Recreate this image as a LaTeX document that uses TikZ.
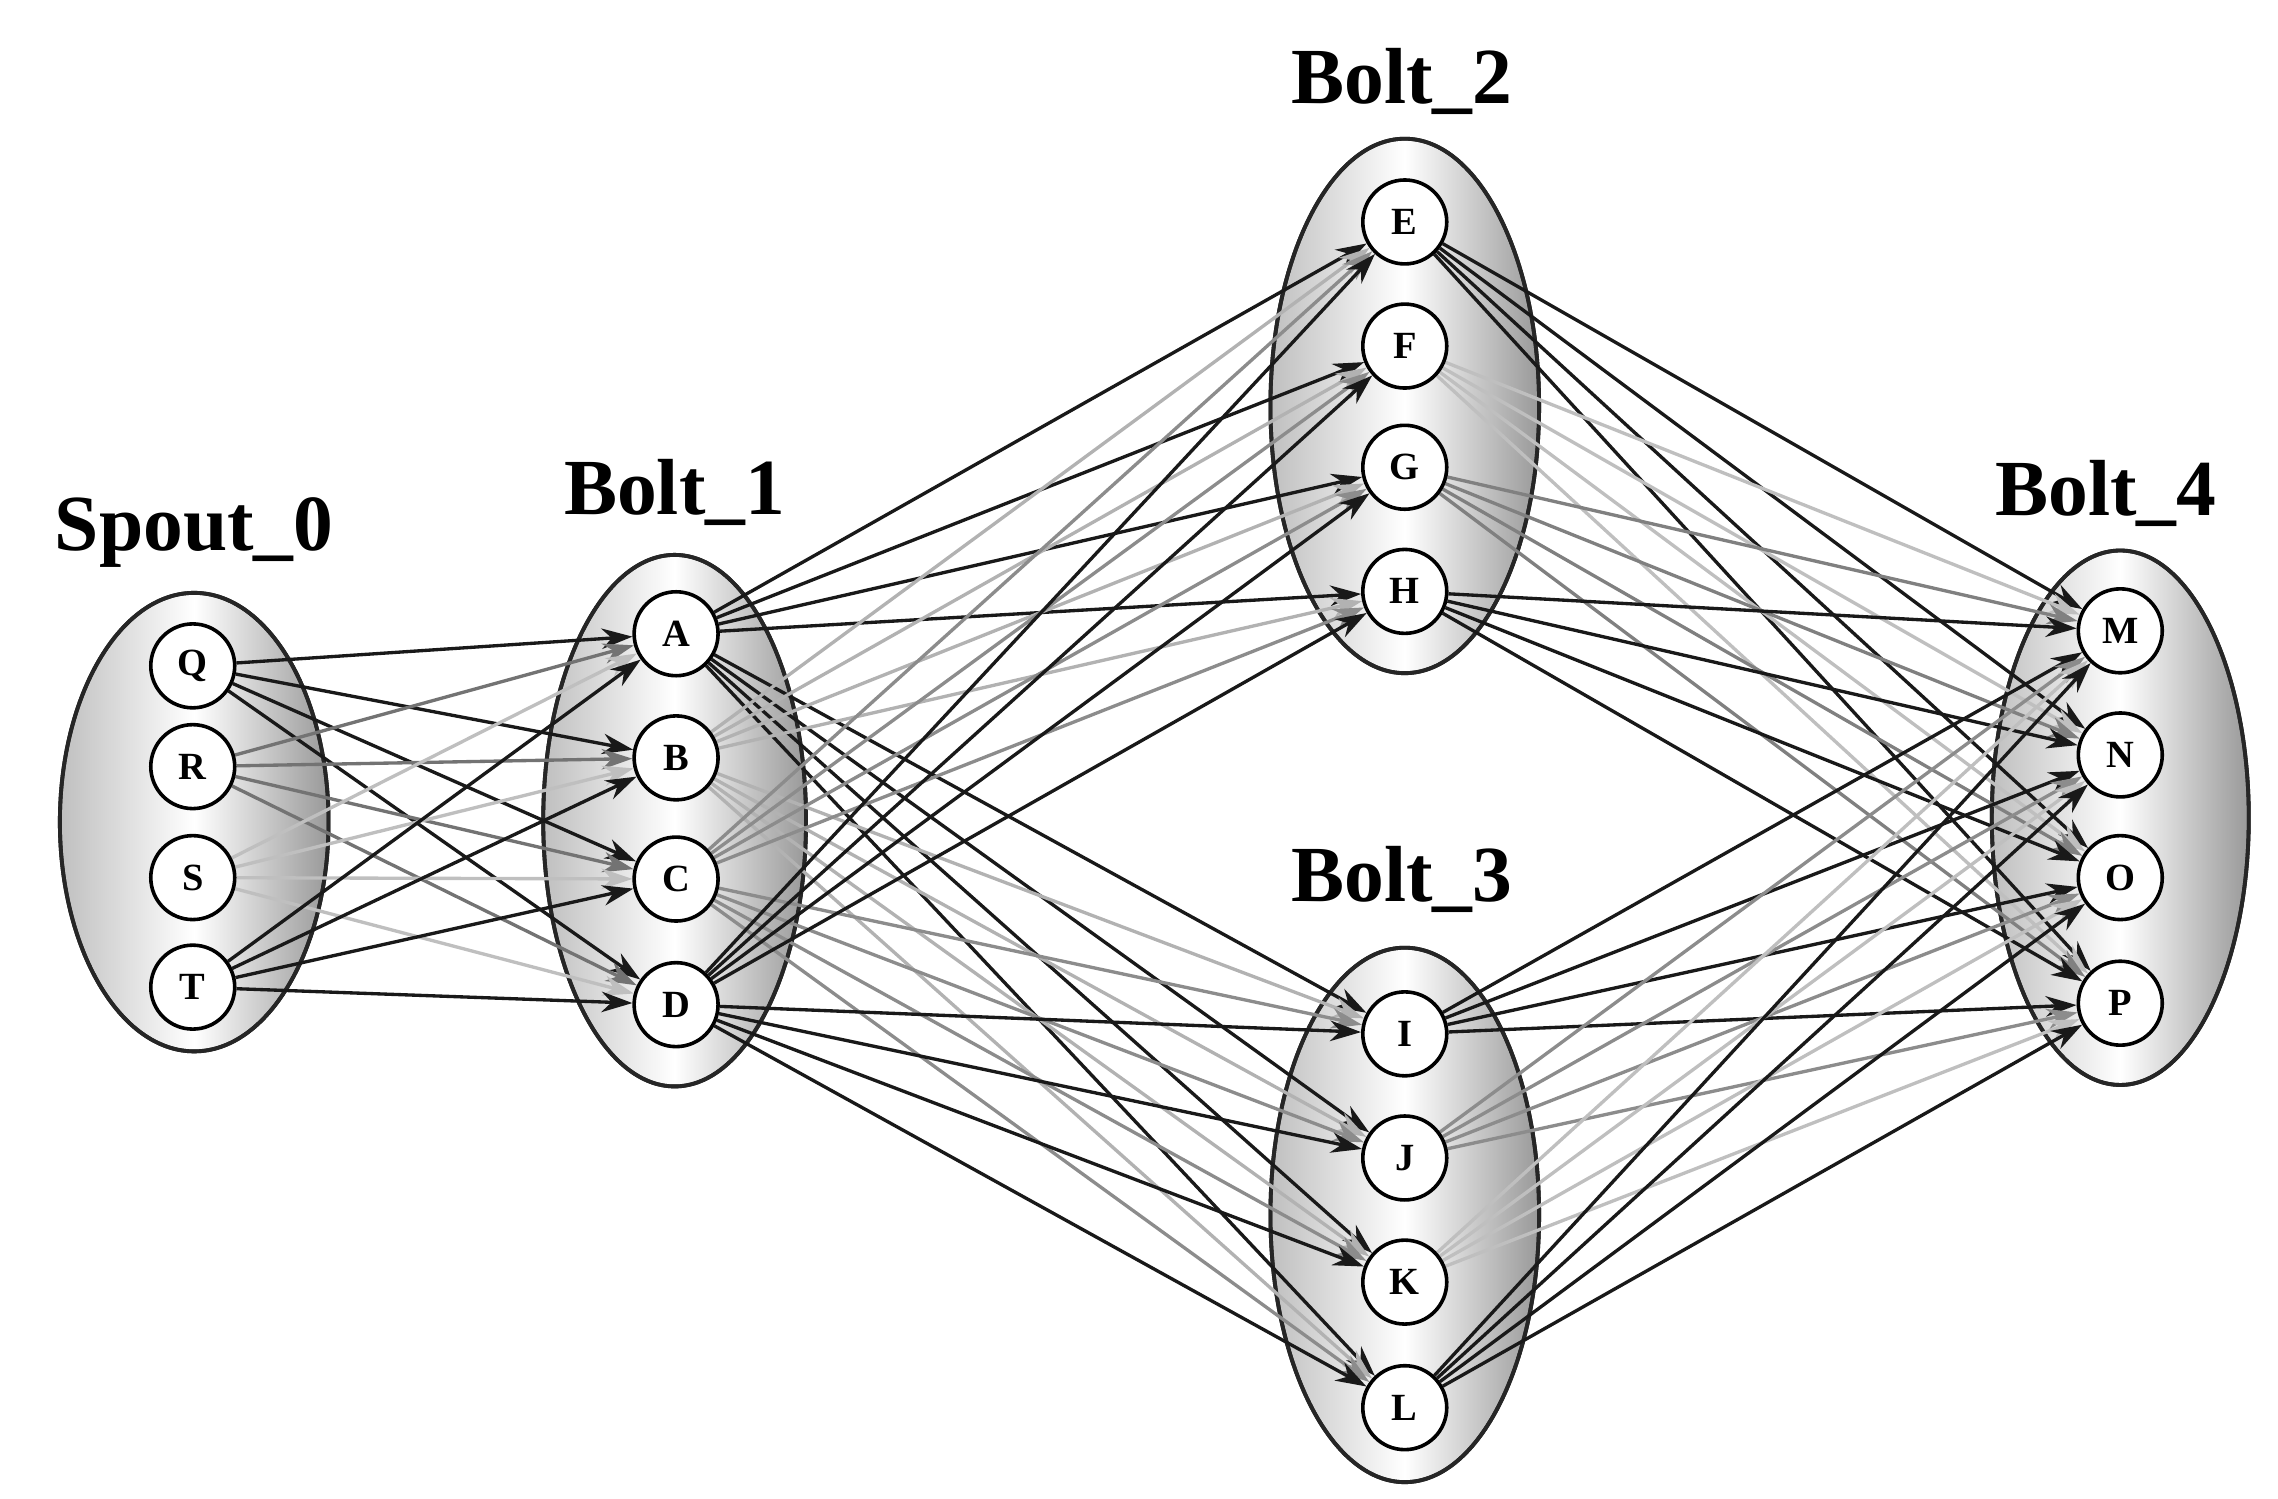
\documentclass[tikz,border=0pt]{standalone}
\usepackage{fontspec}
\setmainfont{Liberation Serif}
\usetikzlibrary{arrows.meta,backgrounds}
\begin{document}
\begin{tikzpicture}[x=0.02cm,y=-0.02cm,
 grp/.style={draw=black!85,line width=1.5pt,left color=gray!50,right color=gray!80,middle color=white,shading angle=90},
 nd/.style={circle,draw=black,line width=1.4pt,fill=white,minimum size=1.15cm,inner sep=0pt,font=\fontsize{15}{16}\selectfont\bfseries},
 ttl/.style={font=\fontsize{31}{34}\selectfont\bfseries},
 e/.style={-{Stealth[length=12pt,width=8pt]},line width=1.3pt}]
\useasboundingbox (0,0) rectangle (1560,1026);
\node[ttl] (t0) at (133,365) {Spout\_0};
\node[ttl] (t1) at (462,337) {Bolt\_1};
\node[ttl] (t2) at (960,56) {Bolt\_2};
\node[ttl] (t3) at (960,602) {Bolt\_3};
\node[ttl] (t4) at (1442,338) {Bolt\_4};
\foreach \n/\y in {Q/456,R/525,S/601,T/676} \node[nd] (\n) at (132,\y) {\n};
\foreach \n/\y in {A/434,B/519,C/602,D/688} \node[nd] (\n) at (463,\y) {\n};
\foreach \n/\y in {E/152,F/237,G/320,H/405,I/708,J/793,K/878,L/964} \node[nd] (\n) at (962,\y) {\n};
\foreach \n/\y in {M/432,N/517,O/601,P/687} \node[nd] (\n) at (1452,\y) {\n};
\begin{scope}[on background layer]
\fill[grp] (133,563) ellipse [x radius=92,y radius=157];
\fill[grp] (462,562) ellipse [x radius=90,y radius=182];
\fill[grp] (962,278) ellipse [x radius=92,y radius=183];
\fill[grp] (962,832) ellipse [x radius=92,y radius=183];
\fill[grp] (1452,560) ellipse [x radius=88,y radius=183];
\draw[black!85,line width=1.5pt] (133,563) ellipse [x radius=92,y radius=157] (462,562) ellipse [x radius=90,y radius=182] (962,278) ellipse [x radius=92,y radius=183] (962,832) ellipse [x radius=92,y radius=183] (1452,560) ellipse [x radius=88,y radius=183];
\foreach \s/\c in {Q/black!90,R/black!55,S/black!25,T/black!90}
  \foreach \t in {A,B,C,D} \draw[e,draw=\c] (\s) -- (\t);
\foreach \s/\c in {A/black!90,B/black!30,C/black!45,D/black!90}
  \foreach \t in {E,F,G,H,I,J,K,L} \draw[e,draw=\c] (\s) -- (\t);
\foreach \s/\c in {E/black!90,F/black!25,G/black!50,H/black!90,I/black!90,J/black!45,K/black!25,L/black!90}
  \foreach \t in {M,N,O,P} \draw[e,draw=\c] (\s) -- (\t);
\end{scope}
\end{tikzpicture}
\end{document}
